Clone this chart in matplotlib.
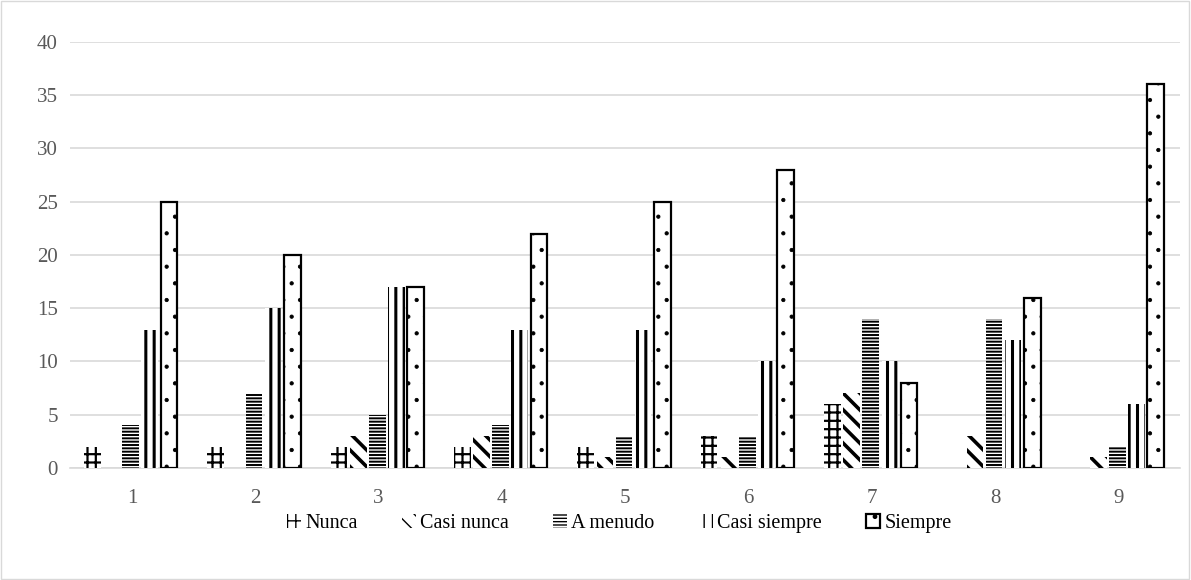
import numpy as np
import matplotlib.pyplot as plt
from matplotlib.patches import Rectangle

plt.rcParams['font.family'] = ['Liberation Serif', 'DejaVu Serif']

# respuestas por ítem
items = ['1', '2', '3', '4', '5', '6', '7', '8', '9']
nunca = [2, 2, 2, 2, 2, 3, 6, 0, 0]
casi_nunca = [0, 0, 3, 3, 1, 1, 7, 3, 1]
a_menudo = [4, 7, 5, 4, 3, 3, 14, 14, 2]
casi_siempre = [13, 15, 17, 13, 13, 10, 10, 12, 6]
siempre = [25, 20, 17, 22, 25, 28, 8, 16, 36]

series = [
    ('Nunca', nunca, '++', 1.6, 0),
    ('Casi nunca', casi_nunca, '\\\\', 2.6, 0),
    ('A menudo', a_menudo, '-----', 1.4, 0),
    ('Casi siempre', casi_siempre, '||', 2.2, 0),
    ('Siempre', siempre, '.', 0.6, 1.6),
]

fig = plt.figure(figsize=(11.91, 5.8), dpi=100)
ax = fig.add_axes([0.059, 0.193, 0.932, 0.735])

x = np.arange(len(items))
w = 0.135
step = 0.155
for i, (name, vals, hatch, hlw, lw) in enumerate(series):
    with plt.rc_context({'hatch.linewidth': hlw}):
        bars = ax.bar(x + (i - 2) * step - 0.01, vals, w, color='white', hatch=hatch,
                      edgecolor='black', linewidth=lw, label=name, zorder=3)
        for b in bars:
            if hasattr(b, 'set_hatch_linewidth'):
                b.set_hatch_linewidth(hlw)

ax.set_ylim(0, 40)
ax.set_yticks(range(0, 41, 5))
ax.set_xlim(-0.5, len(items) - 0.5)
ax.set_xticks(x)
ax.set_xticklabels(items)
ax.grid(axis='y', color='#d9d9d9', linewidth=1.2, zorder=0)
ax.tick_params(length=0, labelsize=15, labelcolor='#595959')
ax.tick_params(axis='x', pad=15)
ax.tick_params(axis='y', pad=9)
for s in ['top', 'right', 'left']:
    ax.spines[s].set_visible(False)
ax.spines['bottom'].set_color('#d9d9d9')
ax.spines['bottom'].set_linewidth(1.2)

leg = fig.legend(loc='center', bbox_to_anchor=(0.52, 0.097), ncol=5, frameon=False,
                 fontsize=14.5, handlelength=0.7, handleheight=0.7,
                 handletextpad=0.2, columnspacing=2.2)

fig.patches.append(Rectangle((0.001, 0.001), 0.997, 0.997, transform=fig.transFigure,
                             fill=False, edgecolor='#d9d9d9', linewidth=1))

fig.savefig('out.png', dpi=100)
